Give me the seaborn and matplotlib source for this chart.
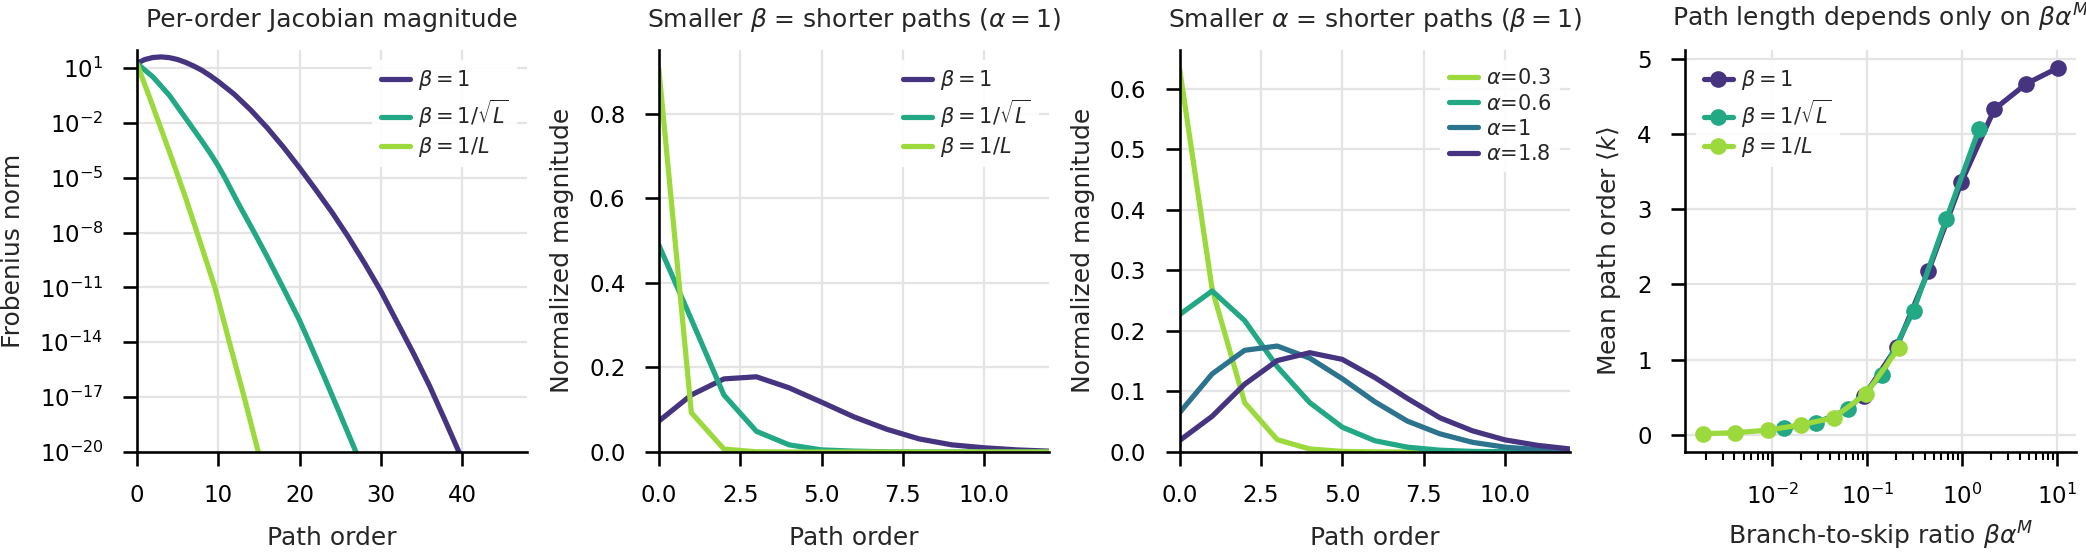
import numpy as np
import pandas as pd
import matplotlib
matplotlib.use("Agg")
import matplotlib.pyplot as plt
import seaborn as sns

# ---------------- data ----------------
# Panel 1: per-order Jacobian magnitude (log10 of Frobenius norm)
p1_b1_k = [0, 1, 2, 3, 4, 5, 6, 7, 8, 9, 10, 12, 14, 16, 18, 20, 22, 24, 26, 28, 30, 32, 34, 36, 38, 39.6]
p1_b1_log = [1.25, 1.46, 1.57, 1.6, 1.56, 1.46, 1.3, 1.1, 0.87, 0.58, 0.26, -0.45, -1.3, -2.26, -3.32, -4.46,
             -5.66, -6.9, -8.24, -9.68, -11.2, -12.9, -14.6, -16.4, -18.38, -20.0]
p1_bs_k = [0, 2, 4, 6, 8, 9, 10, 10.82, 12.5, 14.5, 16, 17.96, 20, 21.2, 23, 25, 26.94]
p1_bs_log = [1.25, 0.5, -0.5, -1.75, -3.0, -3.65, -4.35, -5.0, -6.43, -8.05, -9.3, -11.0, -12.8, -14.0, -15.85, -17.95, -20.0]
p1_bl_k = [0, 1.56, 3, 4.5, 6, 7.66, 9.6, 11.5, 13.2, 14.93]
p1_bl_log = [1.25, -0.6, -2.35, -4.2, -6.1, -8.35, -11.0, -14.2, -17.0, -20.0]

# Panel 2: normalized magnitude vs path order (alpha = 1)
orders = list(range(13))
p2_b1 = [0.073, 0.135, 0.173, 0.178, 0.152, 0.118, 0.083, 0.054, 0.031, 0.017, 0.010, 0.005, 0.002]
p2_bs = [0.490, 0.314, 0.135, 0.049, 0.017, 0.005, 0.002, 0.0005, 0.0002, 0.0001, 0.0, 0.0, 0.0]
p2_bl = [0.907, 0.093, 0.007, 0.0005, 0.0, 0.0, 0.0, 0.0, 0.0, 0.0, 0.0, 0.0, 0.0]

# Panel 3: normalized magnitude vs path order (beta = 1)
p3_a03 = [0.633, 0.269, 0.0815, 0.0204, 0.005, 0.001, 0.0002, 0.0, 0.0, 0.0, 0.0, 0.0, 0.0]
p3_a06 = [0.227, 0.266, 0.217, 0.141, 0.0815, 0.041, 0.0186, 0.008, 0.003, 0.001, 0.0005, 0.0002, 0.0001]
p3_a10 = [0.065, 0.129, 0.168, 0.175, 0.155, 0.121, 0.083, 0.051, 0.030, 0.016, 0.008, 0.004, 0.002]
p3_a18 = [0.019, 0.059, 0.112, 0.151, 0.164, 0.153, 0.123, 0.0885, 0.0565, 0.035, 0.020, 0.011, 0.005]

# Panel 4: mean path order vs branch-to-skip ratio
p4_b1_x = [0.092, 0.204, 0.44, 0.975, 2.17, 4.72, 10.1]
p4_b1_y = [0.51, 1.17, 2.18, 3.36, 4.33, 4.67, 4.88]
p4_bs_x = [0.0132, 0.0287, 0.0633, 0.141, 0.306, 0.68, 1.50]
p4_bs_y = [0.085, 0.155, 0.344, 0.79, 1.65, 2.875, 4.07]
p4_bl_x = [0.00186, 0.0041, 0.0090, 0.0199, 0.0442, 0.0975, 0.215]
p4_bl_y = [0.014, 0.028, 0.061, 0.132, 0.226, 0.547, 1.16]

lab_b1 = r"$\beta = 1$"
lab_bs = r"$\beta = 1/\sqrt{L}$"
lab_bl = r"$\beta = 1/L$"
alpha_labels = [r"$\alpha$=0.3", r"$\alpha$=0.6", r"$\alpha$=1", r"$\alpha$=1.8"]

# ---------------- style ----------------
sns.set_theme(style="ticks", context="notebook")
plt.rcParams.update({
    "axes.linewidth": 1.25,
    "xtick.major.width": 1.25, "ytick.major.width": 1.25,
    "xtick.minor.width": 1.0, "ytick.minor.width": 1.0,
    "xtick.major.size": 6.7, "ytick.major.size": 6.7,
    "xtick.minor.size": 3.8,
    "xtick.major.pad": 8.7, "ytick.major.pad": 9.3,
    "xtick.minor.pad": 8.7,
    "axes.titlesize": 12, "axes.labelsize": 12,
    "xtick.labelsize": 11, "ytick.labelsize": 11,
    "legend.fontsize": 10,
    "axes.edgecolor": "black",
    "xtick.color": "black", "ytick.color": "black",
})
plt.rcParams["font.family"] = ["DejaVu Sans"]

vir = plt.get_cmap("viridis")
c_purple = vir(0.15)
c_blue = vir(0.38)
c_teal = vir(0.6)
c_green = vir(0.85)

W, H = 2086, 555
fig = plt.figure(figsize=(W / 150, H / 150), dpi=150)
lefts = [136.8, 658.8, 1179.6, 1685.1]
aw, bottom_px, top_px = 390.5, 452.0, 49.6
axes = [fig.add_axes([l / W, (H - bottom_px) / H, aw / W, (bottom_px - top_px) / H]) for l in lefts]

grid_kw = dict(color="#e4e4e4", linewidth=1.1)
LW = 2.5
TPAD = 11

# ---- Panel 1 ----
ax = axes[0]
for k, lg, c, lab in [(p1_b1_k, p1_b1_log, c_purple, lab_b1),
                      (p1_bs_k, p1_bs_log, c_teal, lab_bs),
                      (p1_bl_k, p1_bl_log, c_green, lab_bl)]:
    sns.lineplot(x=k, y=10.0 ** np.array(lg), ax=ax, color=c, lw=LW, label=lab)
ax.set_yscale("log")
ax.set_xlim(0, 48)
ax.set_ylim(1e-20, 10 ** 2.0)
ax.set_yticks([10.0 ** e for e in range(-20, 2, 3)])
ax.yaxis.set_minor_locator(matplotlib.ticker.NullLocator())
ax.set_xticks([0, 10, 20, 30, 40])
ax.set_xlabel("Path order", labelpad=9)
ax.set_ylabel("Frobenius norm", labelpad=7)
ax.set_title("Per-order Jacobian magnitude", pad=TPAD)

# ---- Panel 2 ----
ax = axes[1]
for ys, c, lab in [(p2_b1, c_purple, lab_b1), (p2_bs, c_teal, lab_bs), (p2_bl, c_green, lab_bl)]:
    sns.lineplot(x=orders, y=ys, ax=ax, color=c, lw=LW, label=lab)
ax.set_xlim(0, 12)
ax.set_ylim(bottom=0)
ax.set_xticks([0, 2.5, 5.0, 7.5, 10.0])
ax.set_yticks([0.0, 0.2, 0.4, 0.6, 0.8])
ax.set_xlabel("Path order", labelpad=9)
ax.set_ylabel("Normalized magnitude", labelpad=7)
ax.set_title(r"Smaller $\beta$ = shorter paths ($\alpha=1$)", pad=TPAD)

# ---- Panel 3 ----
ax = axes[2]
for ys, c, lab in zip([p3_a03, p3_a06, p3_a10, p3_a18], [c_green, c_teal, c_blue, c_purple], alpha_labels):
    sns.lineplot(x=orders, y=ys, ax=ax, color=c, lw=LW, label=lab)
ax.set_xlim(0, 12)
ax.set_ylim(bottom=0)
ax.set_xticks([0, 2.5, 5.0, 7.5, 10.0])
ax.set_yticks([0.0, 0.1, 0.2, 0.3, 0.4, 0.5, 0.6])
ax.set_xlabel("Path order", labelpad=9)
ax.set_ylabel("Normalized magnitude", labelpad=7)
ax.set_title(r"Smaller $\alpha$ = shorter paths ($\beta=1$)", pad=TPAD)

# ---- Panel 4 ----
ax = axes[3]
for xs, ys, c, lab in [(p4_b1_x, p4_b1_y, c_purple, lab_b1),
                       (p4_bs_x, p4_bs_y, c_teal, lab_bs),
                       (p4_bl_x, p4_bl_y, c_green, lab_bl)]:
    sns.lineplot(x=xs, y=ys, ax=ax, color=c, lw=LW, marker="o", markersize=8,
                 markeredgewidth=0, label=lab)
ax.set_xscale("log")
ax.set_yticks([0, 1, 2, 3, 4, 5])
ax.set_xlabel(r"Branch-to-skip ratio $\beta\alpha^M$", labelpad=5)
ax.set_ylabel(r"Mean path order $\langle k\rangle$", labelpad=7)
ax.set_title(r"Path length depends only on $\beta\alpha^M$", pad=TPAD)

for i, ax in enumerate(axes):
    ax.grid(True, which="major", **grid_kw)
    ax.set_axisbelow(True)
    sns.despine(ax=ax)
    loc = "upper left" if i == 3 else "upper right"
    ax.legend(loc=loc, frameon=True, facecolor="white", edgecolor="none",
              framealpha=0.9, handlelength=1.4, handletextpad=0.4,
              labelspacing=0.25)

fig.savefig("out.png", dpi=150)
